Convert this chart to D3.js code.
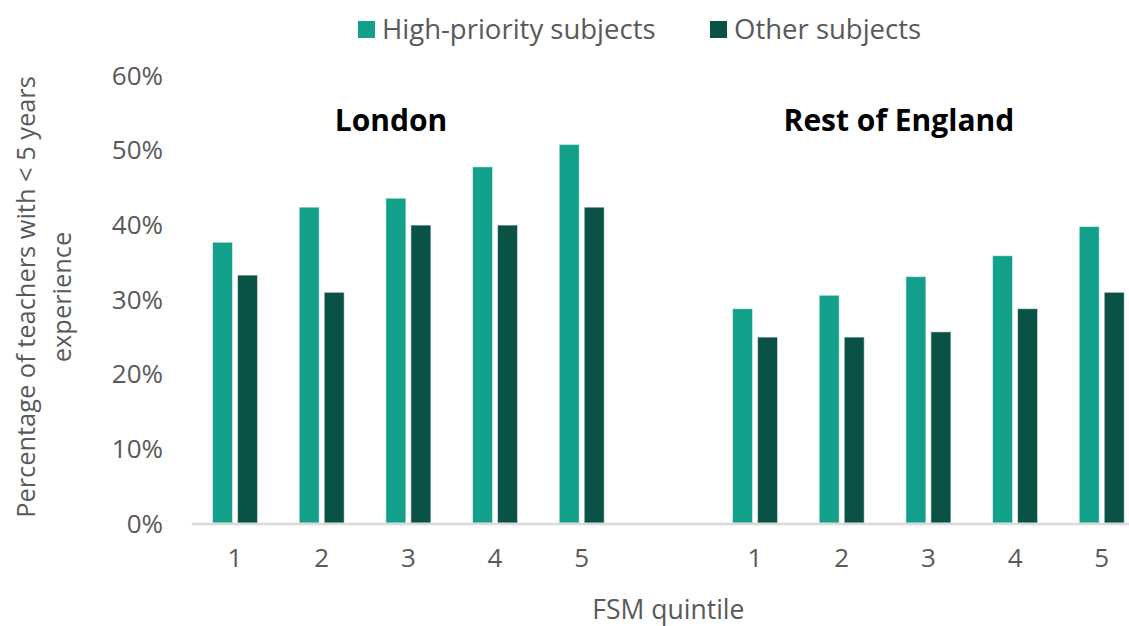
<!DOCTYPE html>
<html>
<head>
<meta charset="utf-8">
<script src="https://cdn.jsdelivr.net/npm/d3@7"></script>
<style>
  html, body { margin: 0; padding: 0; background: #ffffff; }
  svg { display: block; }
  text { font-family: "Open Sans", "Noto Sans", sans-serif; }
</style>
</head>
<body>
<svg id="chart" width="1129" height="626"></svg>
<script>
// ---- data ----
const categories = ["L1", "L2", "L3", "L4", "L5", "gap", "R1", "R2", "R3", "R4", "R5"];
const categoryLabels = ["1", "2", "3", "4", "5", "", "1", "2", "3", "4", "5"];
const seriesNames = ["High-priority subjects", "Other subjects"];
const highPriority = [37.6, 42.3, 43.5, 47.7, 50.7, null, 28.7, 30.5, 33.0, 35.8, 39.7];
const otherSubjects = [33.2, 30.9, 39.9, 39.9, 42.3, null, 24.9, 24.9, 25.6, 28.7, 30.9];
const yTicks = [0, 10, 20, 30, 40, 50, 60];
const panelTitles = ["London", "Rest of England"];
const colors = ["#12a08a", "#0a5246"];

// ---- layout ----
const svg = d3.select("#chart");
const plotLeft = 191.7, step = 86.67;
const plotTop = 75, plotBottom = 523;

const x = d3.scaleBand().domain(categories)
  .range([plotLeft, plotLeft + step * categories.length])
  .paddingInner(0).paddingOuter(0);
const groupW = 45;
const x1 = d3.scaleBand().domain(seriesNames)
  .range([(x.bandwidth() - groupW) / 2, (x.bandwidth() + groupW) / 2])
  .paddingInner(0.2).paddingOuter(0);
const y = d3.scaleLinear().domain([0, 60]).range([plotBottom, plotTop]);

const textGray = "#595959";

// bars
const seriesData = [highPriority, otherSubjects];
seriesData.forEach((vals, si) => {
  svg.append("g").selectAll("rect")
    .data(categories.map((c, i) => ({ c, v: vals[i] })).filter(d => d.v != null))
    .join("rect")
    .attr("x", d => x(d.c) + x1(seriesNames[si]))
    .attr("y", d => y(d.v))
    .attr("width", x1.bandwidth())
    .attr("height", d => y(0) - y(d.v))
    .attr("fill", colors[si])
    .attr("stroke", "rgba(255,255,255,0.55)")
    .attr("stroke-width", 1);
});

// x axis line
svg.append("line")
  .attr("x1", plotLeft).attr("x2", 1129)
  .attr("y1", y(0) + 1).attr("y2", y(0) + 1)
  .attr("stroke", "#d9d9d9").attr("stroke-width", 2.6);

// y tick labels
const yAxis = d3.axisLeft(y).tickValues(yTicks).tickFormat(d => d + "%").tickSize(0).tickPadding(0);
const yg = svg.append("g").attr("transform", "translate(163,0)").call(yAxis);
yg.select(".domain").remove();
yg.selectAll("text")
  .attr("fill", textGray)
  .style("font-size", "26px")
  .style("font-family", "'Open Sans', sans-serif")
  .attr("dy", "0.35em");

// x tick labels
const xAxis = d3.axisBottom(x).tickFormat((d, i) => categoryLabels[i]).tickSize(0).tickPadding(0);
const xg = svg.append("g").attr("transform", "translate(0,547)").call(xAxis);
xg.select(".domain").remove();
xg.selectAll("text")
  .attr("fill", textGray)
  .style("font-size", "26px")
  .style("font-family", "'Open Sans', sans-serif")
  .attr("dy", "0.78em");

// panel titles (placed as in the original, slightly left of group centres)
const londonCenter = x("L2") + x.bandwidth() * 1.3;
const restCenter = x("R2") + x.bandwidth() * 1.16;
[londonCenter, restCenter].forEach((cx, i) => {
  svg.append("text")
    .attr("x", cx).attr("y", 131)
    .attr("text-anchor", "middle")
    .attr("fill", "#000000")
    .style("font-size", "30px")
    .style("font-weight", "bold")
    .text(panelTitles[i]);
});

// x axis title
svg.append("text")
  .attr("x", x("gap") + x.bandwidth() / 2).attr("y", 619)
  .attr("text-anchor", "middle")
  .attr("fill", textGray)
  .style("font-size", "26.5px")
  .text("FSM quintile");

// y axis title (two lines)
const yTitle = svg.append("text")
  .attr("transform", "translate(35,297) rotate(-90)")
  .attr("text-anchor", "middle")
  .attr("fill", textGray)
  .style("font-size", "25.4px");
yTitle.append("tspan").attr("x", 0).attr("y", 0).text("Percentage of teachers with < 5 years");
yTitle.append("tspan").attr("x", 0).attr("y", 36).text("experience");

// legend
const legendX = [358, 710];
seriesNames.forEach((name, i) => {
  svg.append("rect")
    .attr("x", legendX[i]).attr("y", 21)
    .attr("width", 17).attr("height", 17)
    .attr("fill", colors[i]);
  svg.append("text")
    .attr("x", legendX[i] + 24).attr("y", 39)
    .attr("fill", textGray)
    .style("font-size", "27.5px")
    .text(name);
});
</script>
</body>
</html>
